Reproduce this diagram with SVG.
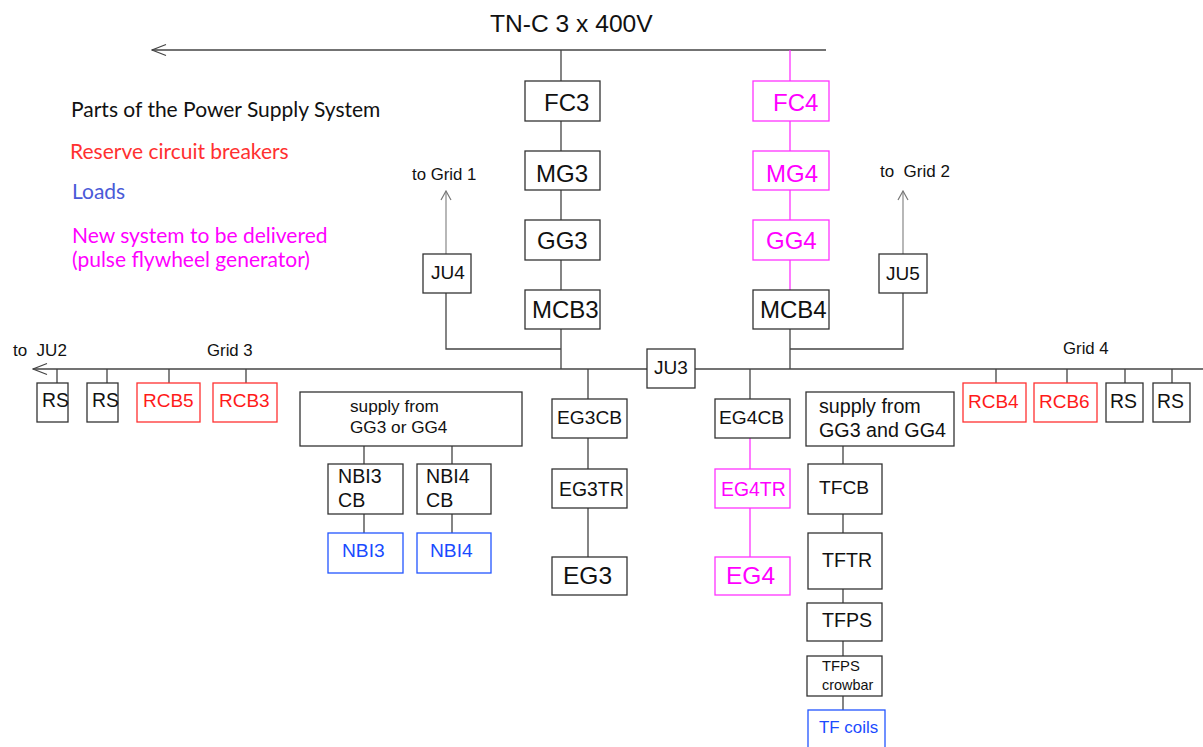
<svg xmlns="http://www.w3.org/2000/svg" width="1203" height="747" viewBox="0 0 1203 747">
<style>
text{font-family:"Liberation Sans",Arial,sans-serif;fill:#111}
.b{fill:#fff;stroke:#333;stroke-width:1.3}
.m{fill:#fff;stroke:#ff33ff;stroke-width:1.3}
.r{fill:#fff;stroke:#ff3030;stroke-width:1.3}
.u{fill:#fff;stroke:#2255ff;stroke-width:1.3}
.l{fill:none;stroke:#444;stroke-width:1.3}
.lm{fill:none;stroke:#ff33ff;stroke-width:1.3}
.lg{fill:none;stroke:#888;stroke-width:1.2}
.tm{fill:#ff00ff}
.tr{fill:#ff1a1a}
.tu{fill:#1a4bff}
.lg1{font-family:Lato,"Open Sans",sans-serif;font-size:21px}
</style>
<defs>
<marker id="ah" markerUnits="userSpaceOnUse" markerWidth="16" markerHeight="14" refX="15" refY="7" orient="auto" viewBox="0 0 16 14">
<path d="M1,1.5 L15,7 L1,12.5" fill="none" stroke="#444" stroke-width="1.2"/>
</marker>
<marker id="ahs" markerUnits="userSpaceOnUse" markerWidth="12" markerHeight="12" refX="11" refY="6" orient="auto" viewBox="0 0 12 12">
<path d="M2,1 L11,6 L2,11" fill="none" stroke="#777" stroke-width="1.2"/>
</marker>
</defs>
<rect width="1203" height="747" fill="#fff"/>

<text x="490" y="32" font-size="24.6">TN-C 3 x 400V</text>

<g id="legend">
<text class="lg1" x="71" y="117">Parts of the Power Supply System</text>
<text class="lg1" x="70" y="159" style="fill:#ff3030">Reserve circuit breakers</text>
<text class="lg1" x="72" y="199" style="fill:#4a5ad8">Loads</text>
<text class="lg1 tm" x="72" y="243">New system to be delivered</text>
<text class="lg1 tm" x="72" y="267">(pulse flywheel generator)</text>
</g>

<g id="connectors">
<path class="l" d="M826,50 H152" marker-end="url(#ah)"/>
<path class="lm" d="M790,50 V81 M790,121 V151 M790,190 V220 M790,260 V290"/>
<path class="l" d="M561,50 V81 M561,121 V151 M561,190 V220 M561,260 V290 M561,329 V369"/>
<path class="l" d="M790,329 V369"/>
<path class="l" d="M1203,369 H33" marker-end="url(#ah)"/>
<path class="l" d="M446,293 V349 H561"/>
<path class="l" d="M903,293 V349 H790"/>
<path class="lg" d="M446,254 V191" marker-end="url(#ahs)"/>
<path class="lg" d="M903,254 V191" marker-end="url(#ahs)"/>
<path class="l" d="M57,369 V383 M107,369 V383 M169,369 V383 M246,369 V383"/>
<path class="l" d="M996,369 V383 M1067,369 V383 M1125,369 V383 M1172,369 V383"/>
<path class="l" d="M588,369 V399 M588,438 V469 M588,508 V557"/>
<path class="l" d="M750,369 V399"/>
<path class="lm" d="M750,438 V469 M750,508 V557"/>
<path class="l" d="M364,446 V464 M364,514 V533 M452,446 V464 M452,514 V533"/>
<path class="l" d="M843,446 V464 M843,514 V533 M843,589 V603 M843,641 V656 M843,696 V710"/>
</g>

<g id="FC3"><rect class="b" x="525" y="81" width="75" height="40"/><text x="544" y="111" font-size="24">FC3</text></g>
<g id="MG3"><rect class="b" x="525" y="151" width="75" height="39"/><text x="536" y="182" font-size="24">MG3</text></g>
<g id="GG3"><rect class="b" x="525" y="220" width="75" height="40"/><text x="537" y="249" font-size="24">GG3</text></g>
<g id="MCB3"><rect class="b" x="525" y="290" width="75" height="39"/><text x="532" y="318" font-size="24">MCB3</text></g>

<g id="FC4"><rect class="m" x="753" y="81" width="76" height="40"/><text class="tm" x="773" y="111" font-size="24">FC4</text></g>
<g id="MG4"><rect class="m" x="753" y="151" width="76" height="39"/><text class="tm" x="766" y="182" font-size="24">MG4</text></g>
<g id="GG4"><rect class="m" x="753" y="220" width="76" height="40"/><text class="tm" x="766" y="249" font-size="24">GG4</text></g>
<g id="MCB4"><rect class="b" x="753" y="290" width="76" height="39"/><text x="760" y="318" font-size="24">MCB4</text></g>

<g id="JU4"><rect class="b" x="423" y="254" width="48" height="39"/><text x="431" y="279" font-size="19">JU4</text></g>
<g id="JU5"><rect class="b" x="879" y="254" width="48" height="39"/><text x="886" y="280" font-size="19">JU5</text></g>
<g id="JU3"><rect class="b" x="647" y="349" width="48" height="39"/><text x="654" y="374" font-size="19">JU3</text></g>

<g id="labels">
<text x="412" y="180" font-size="16.8">to Grid 1</text>
<text x="880" y="177" font-size="17" xml:space="preserve">to  Grid 2</text>
<text x="13" y="356" font-size="17" xml:space="preserve">to  JU2</text>
<text x="207" y="356" font-size="16.8">Grid 3</text>
<text x="1063" y="354" font-size="16.8">Grid 4</text>
</g>

<g id="RS1"><rect class="b" x="37" y="383" width="31" height="39"/><text x="42" y="407" font-size="19.4">RS</text></g>
<g id="RS2"><rect class="b" x="87" y="383" width="31" height="39"/><text x="92" y="407" font-size="19.4">RS</text></g>
<g id="RCB5"><rect class="r" x="137" y="383" width="63" height="39"/><text class="tr" x="143" y="407" font-size="19">RCB5</text></g>
<g id="RCB3"><rect class="r" x="213" y="383" width="64" height="39"/><text class="tr" x="219" y="407" font-size="19">RCB3</text></g>

<g id="RCB4"><rect class="r" x="963" y="383" width="63" height="39"/><text class="tr" x="968" y="408" font-size="19">RCB4</text></g>
<g id="RCB6"><rect class="r" x="1034" y="383" width="63" height="39"/><text class="tr" x="1039" y="408" font-size="19">RCB6</text></g>
<g id="RS3"><rect class="b" x="1106" y="383" width="37" height="39"/><text x="1110" y="408" font-size="19.4">RS</text></g>
<g id="RS4"><rect class="b" x="1153" y="383" width="37" height="39"/><text x="1157" y="408" font-size="19.4">RS</text></g>

<g id="SUP1"><rect class="b" x="300" y="392" width="222" height="54"/><text x="350" y="412" font-size="17.2">supply from</text><text x="350" y="433" font-size="17.2">GG3 or GG4</text></g>
<g id="NBI3CB"><rect class="b" x="328" y="464" width="75" height="50"/><text x="338" y="483" font-size="19.6">NBI3</text><text x="338" y="507" font-size="19.6">CB</text></g>
<g id="NBI4CB"><rect class="b" x="417" y="464" width="74" height="50"/><text x="426" y="483" font-size="19.6">NBI4</text><text x="426" y="507" font-size="19.6">CB</text></g>
<g id="NBI3"><rect class="u" x="328" y="533" width="75" height="40"/><text class="tu" x="342" y="557" font-size="19.2">NBI3</text></g>
<g id="NBI4"><rect class="u" x="417" y="533" width="74" height="40"/><text class="tu" x="430" y="557" font-size="19.2">NBI4</text></g>

<g id="EG3CB"><rect class="b" x="552" y="399" width="75" height="39"/><text x="557" y="424" font-size="19.2">EG3CB</text></g>
<g id="EG3TR"><rect class="b" x="552" y="469" width="75" height="39"/><text x="559" y="496" font-size="19.4">EG3TR</text></g>
<g id="EG3"><rect class="b" x="552" y="557" width="75" height="38"/><text x="563" y="584" font-size="24.5">EG3</text></g>

<g id="EG4CB"><rect class="b" x="715" y="399" width="75" height="39"/><text x="719" y="424" font-size="19.2">EG4CB</text></g>
<g id="EG4TR"><rect class="m" x="715" y="469" width="75" height="39"/><text class="tm" x="721" y="496" font-size="19.4">EG4TR</text></g>
<g id="EG4"><rect class="m" x="715" y="557" width="75" height="38"/><text class="tm" x="726" y="584" font-size="24.5">EG4</text></g>

<g id="SUP2"><rect class="b" x="806" y="392" width="148" height="54"/><text x="819" y="413" font-size="19.7">supply from</text><text x="819" y="437" font-size="19.7">GG3 and GG4</text></g>
<g id="TFCB"><rect class="b" x="808" y="464" width="74" height="50"/><text x="819" y="494" font-size="19.2">TFCB</text></g>
<g id="TFTR"><rect class="b" x="808" y="533" width="74" height="56"/><text x="822" y="567" font-size="19.6">TFTR</text></g>
<g id="TFPS"><rect class="b" x="807" y="603" width="75" height="38"/><text x="822" y="627" font-size="19.6">TFPS</text></g>
<g id="TFPSCB"><rect class="b" x="807" y="656" width="75" height="40"/><text x="822" y="671" font-size="14.8">TFPS</text><text x="822" y="690" font-size="14.4">crowbar</text></g>
<g id="TFCOILS"><rect class="u" x="808" y="710" width="77" height="45"/><text class="tu" x="819" y="733" font-size="16.9">TF coils</text></g>
</svg>
